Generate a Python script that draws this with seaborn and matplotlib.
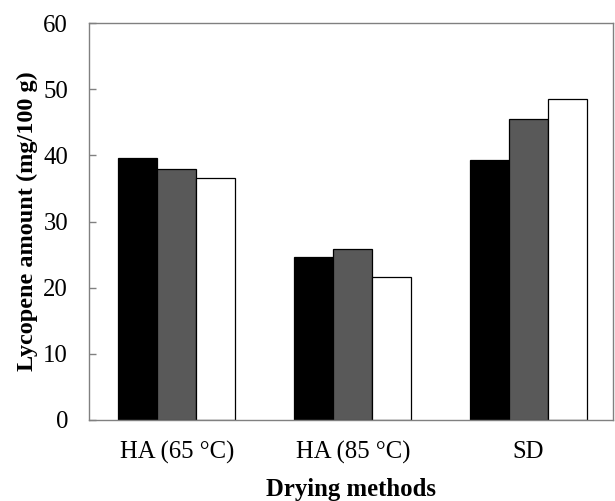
import pandas as pd
import matplotlib
matplotlib.use("Agg")
import matplotlib.pyplot as plt
import seaborn as sns

# data
methods = ["HA (65 °C)", "HA (85 °C)", "SD"]
series_1 = [39.6, 24.7, 39.3]
series_2 = [37.9, 25.9, 45.5]
series_3 = [36.5, 21.6, 48.5]
series_names = ["Series 1", "Series 2", "Series 3"]
bar_colors = ["black", "#595959", "white"]

rows = []
for name, vals in zip(series_names, [series_1, series_2, series_3]):
    for m, v in zip(methods, vals):
        rows.append({"method": m, "series": name, "value": v})
df = pd.DataFrame(rows)

sns.set_style("white")
plt.rcParams["font.family"] = ["Liberation Serif", "DejaVu Serif"]
plt.rcParams["text.color"] = "black"
plt.rcParams["axes.labelcolor"] = "black"
plt.rcParams["xtick.labelcolor"] = "black"
plt.rcParams["ytick.labelcolor"] = "black"

fig = plt.figure(figsize=(6.15, 5.01), dpi=100)
ax = fig.add_axes([89 / 615, 81 / 501, 524 / 615, 397 / 501])

sns.barplot(data=df, x="method", y="value", hue="series", palette=bar_colors,
            edgecolor="black", linewidth=0.9, width=0.665, gap=0,
            legend=False, ax=ax)

ax.set_ylim(0, 60)
ax.set_yticks(range(0, 61, 10))
ax.set_xlim(-0.5, 2.48)

ax.set_xlabel("Drying methods", fontsize=17.8, fontweight="bold", labelpad=10)
ax.set_ylabel("Lycopene amount (mg/100 g)", fontsize=17.5, fontweight="bold", labelpad=4)

ax.tick_params(axis="y", direction="in", length=5, width=1, color="#808080",
               labelsize=17.8, pad=15, left=True)
ax.tick_params(axis="x", length=0, labelsize=17.8, pad=15)

for sp in ax.spines.values():
    sp.set_visible(True)
    sp.set_color("#808080")
    sp.set_linewidth(1)

fig.savefig("out.png", dpi=100)
